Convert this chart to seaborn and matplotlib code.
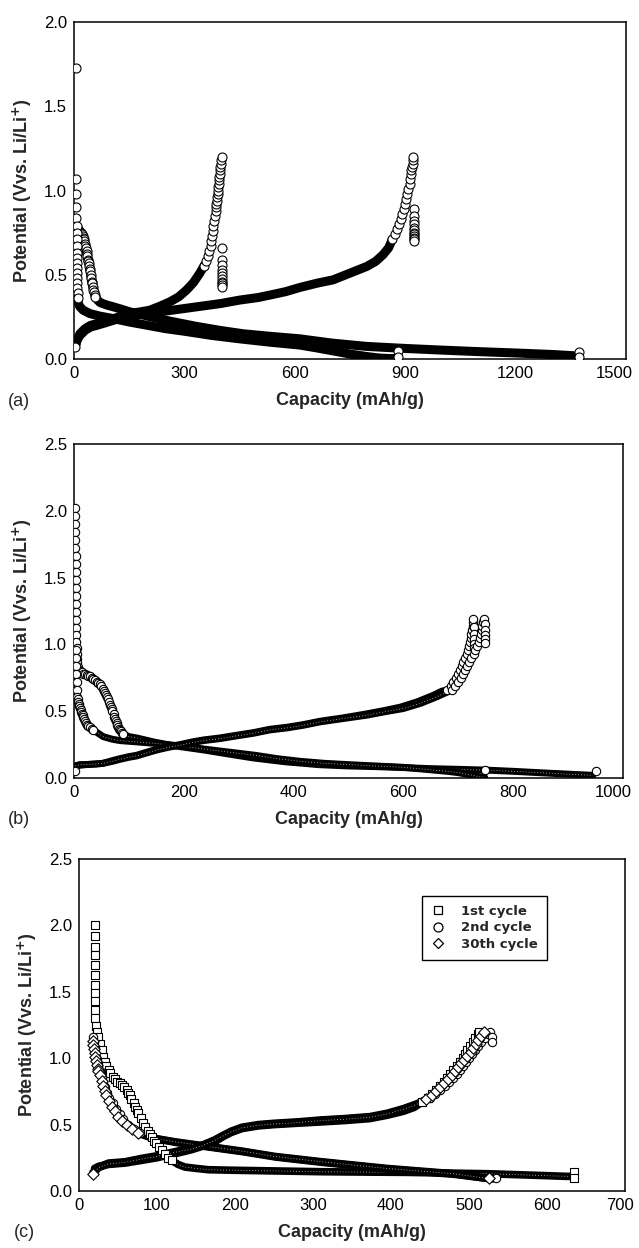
import seaborn as sns
import matplotlib.pyplot as plt
from matplotlib.lines import Line2D
from matplotlib.transforms import ScaledTranslation
from matplotlib.ticker import MultipleLocator, FormatStrFormatter

# ---------------- panel (a) ----------------
# 1st discharge (ends ~1380 mAh/g)
a_dis1_cap = [10, 18, 25, 30, 34, 38, 42, 48, 54, 58, 64, 71, 90, 107, 130, 152, 200, 261, 330, 397, 460, 533, 614, 700, 795, 900, 1000, 1100, 1200, 1300, 1356, 1372]
a_dis1_v = [0.77, 0.75, 0.72, 0.68, 0.64, 0.59, 0.55, 0.46, 0.40, 0.37, 0.35, 0.335, 0.32, 0.31, 0.295, 0.28, 0.255, 0.225, 0.195, 0.17, 0.15, 0.135, 0.12, 0.095, 0.075, 0.063, 0.053, 0.044, 0.036, 0.027, 0.02, 0.01]
a_dis1_pts_cap = [5, 10, 12, 14, 16, 18, 20, 22, 24, 25, 27, 28, 30, 31, 32, 34, 35, 36, 38, 39, 40, 42, 43, 44, 45, 47, 48, 50, 51, 53, 54, 56, 58, 1372, 1372]
a_dis1_pts_v = [1.73, 0.77, 0.765, 0.76, 0.755, 0.75, 0.745, 0.74, 0.73, 0.72, 0.71, 0.70, 0.68, 0.67, 0.66, 0.64, 0.625, 0.61, 0.59, 0.58, 0.57, 0.55, 0.535, 0.52, 0.50, 0.48, 0.46, 0.45, 0.43, 0.41, 0.40, 0.38, 0.37, 0.04, 0.01]
# 2nd discharge (ends ~880 mAh/g)
a_dis2_cap = [10, 12, 16, 25, 43, 70, 107, 150, 200, 250, 300, 375, 450, 533, 614, 660, 700, 750, 795, 830, 860, 878]
a_dis2_v = [0.37, 0.33, 0.31, 0.29, 0.27, 0.255, 0.24, 0.22, 0.20, 0.18, 0.165, 0.14, 0.12, 0.10, 0.083, 0.066, 0.05, 0.03, 0.015, 0.006, 0.003, 0.003]
a_dis2_pts_cap = [5, 5, 6, 6, 7, 7, 7, 7, 7, 8, 8, 8, 8, 9, 9, 9, 10, 11, 880, 880]
a_dis2_pts_v = [1.07, 0.98, 0.90, 0.84, 0.79, 0.75, 0.71, 0.67, 0.63, 0.60, 0.57, 0.54, 0.51, 0.48, 0.45, 0.42, 0.39, 0.36, 0.05, 0.01]
# charge ending ~400 mAh/g
a_chg1_cap = [3, 8, 16, 30, 45, 62, 85, 107, 130, 152, 180, 206, 235, 261, 285, 306, 325, 342, 355]
a_chg1_v = [0.07, 0.11, 0.15, 0.18, 0.20, 0.21, 0.225, 0.24, 0.255, 0.27, 0.28, 0.29, 0.315, 0.34, 0.37, 0.41, 0.455, 0.51, 0.56]
a_chg1_pts_cap = [3, 353, 360, 365, 368, 371, 373, 375, 377, 379, 381, 383, 385, 386, 387, 388, 389, 390, 391, 392, 393, 394, 395, 396, 397, 398, 399, 400, 401,
                  402, 402, 402, 402, 402, 402, 402, 402, 402, 402, 402]
a_chg1_pts_v = [0.07, 0.55, 0.58, 0.61, 0.64, 0.67, 0.70, 0.73, 0.76, 0.79, 0.82, 0.85, 0.88, 0.90, 0.92, 0.94, 0.96, 0.98, 1.00, 1.02, 1.04, 1.06, 1.08, 1.10, 1.12, 1.14, 1.16, 1.18, 1.20,
                0.66, 0.59, 0.56, 0.53, 0.51, 0.49, 0.475, 0.46, 0.45, 0.44, 0.43]
# charge ending ~920 mAh/g
a_chg2_cap = [3, 8, 16, 30, 45, 62, 85, 107, 130, 152, 200, 250, 300, 350, 400, 450, 500, 533, 575, 614, 660, 704, 750, 796, 820, 840, 855, 865]
a_chg2_v = [0.07, 0.11, 0.14, 0.17, 0.19, 0.20, 0.215, 0.23, 0.245, 0.255, 0.27, 0.285, 0.30, 0.315, 0.33, 0.35, 0.365, 0.38, 0.40, 0.425, 0.45, 0.47, 0.51, 0.55, 0.58, 0.62, 0.66, 0.71]
a_chg2_pts_cap = [865, 872, 878, 883, 888, 892, 896, 900, 903, 906, 909, 912, 914, 916, 917, 918, 920, 921, 922,
                  924, 924, 924, 924, 924, 924, 924, 924, 924, 924, 924, 924]
a_chg2_pts_v = [0.71, 0.74, 0.77, 0.80, 0.83, 0.86, 0.89, 0.92, 0.95, 0.98, 1.01, 1.04, 1.07, 1.10, 1.12, 1.14, 1.16, 1.18, 1.20,
                0.89, 0.85, 0.82, 0.80, 0.78, 0.765, 0.75, 0.74, 0.73, 0.72, 0.71, 0.70]

# ---------------- panel (b) ----------------
b_dis1_cap = [60, 69, 78, 90, 100, 114, 145, 170, 193, 236, 266, 296, 327, 357, 388, 418, 445, 500, 550, 600, 650, 700, 746, 800, 870, 945]
b_dis1_v = [0.61, 0.51, 0.41, 0.33, 0.31, 0.30, 0.27, 0.25, 0.235, 0.21, 0.19, 0.17, 0.15, 0.135, 0.12, 0.11, 0.10, 0.09, 0.085, 0.078, 0.07, 0.065, 0.06, 0.05, 0.035, 0.02]
b_dis1_pts_cap = [2, 2, 2, 2, 2, 2, 3, 3, 3, 3, 3, 3, 3, 4, 4, 4, 4, 4, 5, 5, 5, 6, 7, 9,
                  11, 14, 17, 20, 23, 26, 29, 32, 35, 38, 41, 44, 47, 50, 52, 54, 56, 58, 60, 62, 64, 66, 67, 69, 70, 72, 73, 75, 76, 78, 79, 81, 82, 84, 86, 88, 90, 950]
b_dis1_pts_v = [2.02, 1.96, 1.90, 1.84, 1.78, 1.72, 1.66, 1.60, 1.54, 1.48, 1.42, 1.36, 1.30, 1.24, 1.18, 1.12, 1.07, 1.02, 0.97, 0.93, 0.89, 0.86, 0.83, 0.81,
                0.80, 0.79, 0.78, 0.775, 0.77, 0.765, 0.76, 0.75, 0.74, 0.73, 0.72, 0.71, 0.70, 0.685, 0.67, 0.655, 0.64, 0.625, 0.61, 0.59, 0.57, 0.55, 0.53, 0.515, 0.50, 0.48, 0.46, 0.445, 0.43, 0.415, 0.40, 0.385, 0.37, 0.36, 0.35, 0.34, 0.33, 0.055]
b_dis2_cap = [35, 53, 70, 84, 115, 145, 193, 250, 290, 330, 370, 412, 456, 500, 550, 600, 640, 680, 700, 720, 735, 748]
b_dis2_v = [0.36, 0.31, 0.29, 0.28, 0.27, 0.26, 0.24, 0.21, 0.19, 0.17, 0.145, 0.125, 0.11, 0.10, 0.09, 0.08, 0.065, 0.05, 0.04, 0.025, 0.012, 0.005]
b_dis2_pts_cap = [3, 3, 4, 4, 5, 5, 6, 7, 8, 9, 10, 11, 12, 13, 14, 16, 17, 19, 20, 22, 24, 26, 29, 32, 35, 748]
b_dis2_pts_v = [0.96, 0.90, 0.84, 0.78, 0.72, 0.66, 0.61, 0.59, 0.57, 0.555, 0.54, 0.525, 0.51, 0.495, 0.48, 0.47, 0.46, 0.445, 0.43, 0.415, 0.40, 0.39, 0.38, 0.37, 0.36, 0.06]
b_chg1_cap = [2, 10, 20, 40, 53, 70, 84, 100, 114, 130, 151, 172, 193, 215, 236, 266, 296, 327, 357, 388, 418, 448, 490, 533, 565, 594, 625, 655, 670, 680]
b_chg1_v = [0.08, 0.095, 0.10, 0.105, 0.11, 0.13, 0.145, 0.16, 0.17, 0.19, 0.215, 0.235, 0.25, 0.27, 0.285, 0.30, 0.32, 0.34, 0.365, 0.38, 0.40, 0.425, 0.45, 0.48, 0.505, 0.53, 0.57, 0.62, 0.65, 0.66]
b_chg1_pts_cap = [2, 680, 686, 691, 695, 699, 703, 706, 709, 712, 715, 717, 719, 721, 723, 724, 725, 726, 727, 727, 729, 729, 729, 729, 729]
b_chg1_pts_v = [0.05, 0.66, 0.69, 0.72, 0.75, 0.78, 0.81, 0.84, 0.87, 0.90, 0.93, 0.96, 0.99, 1.02, 1.05, 1.08, 1.11, 1.14, 1.17, 1.19, 1.13, 1.08, 1.04, 1.00, 0.97]
b_chg2_cap = [2, 10, 20, 40, 53, 70, 84, 100, 114, 130, 151, 172, 193, 215, 236, 266, 296, 327, 357, 388, 418, 448, 490, 533, 565, 600, 632, 662, 678, 688]
b_chg2_v = [0.09, 0.10, 0.10, 0.105, 0.11, 0.125, 0.14, 0.155, 0.165, 0.185, 0.21, 0.23, 0.245, 0.265, 0.28, 0.295, 0.315, 0.335, 0.36, 0.375, 0.395, 0.42, 0.445, 0.47, 0.495, 0.52, 0.56, 0.61, 0.64, 0.66]
b_chg2_pts_cap = [688, 694, 699, 704, 708, 712, 716, 720, 724, 728, 731, 734, 737, 739, 741, 743, 744, 745, 746, 748, 748, 748, 748, 748]
b_chg2_pts_v = [0.66, 0.69, 0.72, 0.75, 0.78, 0.81, 0.84, 0.87, 0.90, 0.93, 0.96, 0.99, 1.02, 1.05, 1.08, 1.11, 1.14, 1.17, 1.19, 1.15, 1.11, 1.07, 1.04, 1.01]

# ---------------- panel (c) ----------------
# 1st cycle (squares)
c_sq_dis_cap = [93, 96, 100, 106, 112, 119, 127, 136, 150, 166, 190, 208, 260, 311, 370, 420, 470, 523, 575, 625, 632]
c_sq_dis_v = [0.41, 0.38, 0.35, 0.31, 0.27, 0.23, 0.20, 0.18, 0.17, 0.16, 0.157, 0.155, 0.15, 0.145, 0.142, 0.14, 0.135, 0.13, 0.12, 0.11, 0.11]
c_sq_dis_pts_cap = [20, 20, 20, 20, 20, 20, 20, 20, 20, 21, 21, 22, 23, 25, 27, 29, 31, 33, 35, 38, 40, 43, 46, 49, 52, 55, 58, 61, 63, 65, 67, 70, 72, 74, 76, 79, 82, 85, 88, 91, 93, 96, 99, 102, 106, 110, 114, 119,
                    634, 634]
c_sq_dis_pts_v = [2.00, 1.92, 1.84, 1.78, 1.70, 1.63, 1.55, 1.49, 1.43, 1.36, 1.30, 1.24, 1.20, 1.16, 1.11, 1.06, 1.01, 0.97, 0.94, 0.91, 0.89, 0.86, 0.84, 0.82, 0.81, 0.80, 0.78, 0.76, 0.74, 0.72, 0.69, 0.66, 0.63, 0.61, 0.585, 0.55, 0.51, 0.48, 0.45, 0.43, 0.41, 0.38, 0.36, 0.33, 0.31, 0.28, 0.25, 0.23,
                  0.145, 0.10]
c_sq_chg_cap = [20, 25, 38, 59, 80, 100, 115, 130, 144, 160, 174, 185, 195, 209, 230, 251, 280, 311, 340, 373, 395, 416, 430, 440]
c_sq_chg_v = [0.17, 0.185, 0.20, 0.21, 0.23, 0.25, 0.27, 0.29, 0.31, 0.34, 0.37, 0.41, 0.44, 0.47, 0.49, 0.50, 0.51, 0.52, 0.53, 0.545, 0.57, 0.60, 0.63, 0.67]
c_sq_chg_pts_cap = [440, 447, 453, 458, 463, 468, 472, 476, 480, 484, 488, 492, 495, 498, 501, 505, 508, 511, 513]
c_sq_chg_pts_v = [0.67, 0.70, 0.73, 0.76, 0.79, 0.82, 0.85, 0.88, 0.91, 0.94, 0.97, 1.00, 1.03, 1.06, 1.09, 1.12, 1.15, 1.18, 1.20]
# 2nd cycle (circles)
c_ci_dis_cap = [63, 70, 80, 97, 125, 168, 211, 253, 313, 396, 482, 530]
c_ci_dis_v = [0.50, 0.47, 0.43, 0.395, 0.365, 0.33, 0.295, 0.255, 0.215, 0.165, 0.125, 0.09]
c_ci_dis_pts_cap = [18, 19, 20, 21, 22, 23, 25, 27, 29, 31, 33, 36, 39, 43, 47, 52, 57, 63, 70, 78, 535]
c_ci_dis_pts_v = [1.16, 1.12, 1.08, 1.05, 1.01, 0.98, 0.94, 0.90, 0.86, 0.82, 0.78, 0.74, 0.70, 0.66, 0.62, 0.58, 0.54, 0.50, 0.47, 0.44, 0.10]
c_ci_chg_cap = [18, 25, 38, 59, 80, 100, 115, 130, 144, 160, 174, 185, 195, 209, 230, 251, 280, 311, 340, 373, 395, 416, 435, 450]
c_ci_chg_v = [0.14, 0.18, 0.21, 0.22, 0.245, 0.265, 0.285, 0.305, 0.32, 0.35, 0.385, 0.42, 0.45, 0.48, 0.50, 0.51, 0.52, 0.535, 0.545, 0.56, 0.585, 0.62, 0.66, 0.70]
c_ci_chg_pts_cap = [450, 457, 463, 469, 474, 479, 484, 488, 492, 496, 500, 504, 508, 512, 516, 520, 524, 527, 530, 530]
c_ci_chg_pts_v = [0.70, 0.73, 0.76, 0.79, 0.82, 0.85, 0.88, 0.91, 0.94, 0.97, 1.00, 1.03, 1.06, 1.09, 1.12, 1.15, 1.18, 1.20, 1.16, 1.12]
# 30th cycle (diamonds)
c_di_dis_cap = [76, 93, 123, 166, 209, 251, 311, 394, 480, 523]
c_di_dis_v = [0.435, 0.40, 0.37, 0.335, 0.30, 0.26, 0.22, 0.17, 0.13, 0.095]
c_di_dis_pts_cap = [18, 18, 19, 20, 21, 22, 23, 24, 25, 27, 29, 31, 33, 35, 38, 42, 46, 50, 55, 61, 68, 76, 526]
c_di_dis_pts_v = [1.13, 1.10, 1.07, 1.04, 1.01, 0.98, 0.95, 0.92, 0.90, 0.87, 0.83, 0.79, 0.75, 0.72, 0.68, 0.635, 0.60, 0.56, 0.53, 0.50, 0.47, 0.435, 0.10]
c_di_chg_cap = [18, 25, 38, 59, 80, 100, 115, 130, 144, 160, 174, 185, 195, 209, 230, 251, 280, 311, 340, 373, 395, 416, 432, 445]
c_di_chg_v = [0.13, 0.175, 0.205, 0.215, 0.24, 0.26, 0.28, 0.30, 0.315, 0.345, 0.38, 0.415, 0.445, 0.475, 0.495, 0.505, 0.515, 0.53, 0.54, 0.555, 0.58, 0.615, 0.65, 0.69]
c_di_chg_pts_cap = [18, 445, 452, 458, 463, 468, 473, 478, 482, 486, 490, 494, 498, 502, 505, 509, 512, 516, 519]
c_di_chg_pts_v = [0.13, 0.69, 0.72, 0.75, 0.78, 0.81, 0.84, 0.87, 0.90, 0.93, 0.96, 0.99, 1.02, 1.05, 1.08, 1.11, 1.14, 1.17, 1.20]

legend_labels = ['1st cycle', '2nd cycle', '30th cycle']

sns.set_style('white')
plt.rcParams['font.family'] = ['Liberation Sans', 'DejaVu Sans']


def curve(ax, bx, by, px, py, marker='o', lw=6.0, s=42, speckle=False):
    # the dense part of a curve shows as a solid band, single points as open markers
    sns.lineplot(x=bx, y=by, sort=False, estimator=None, color='black', linewidth=lw,
                 solid_capstyle='round', solid_joinstyle='round', ax=ax)
    if speckle:
        sns.lineplot(x=bx, y=by, sort=False, estimator=None, color='white', linewidth=0.6,
                     linestyle=(0, (1.0, 2.5)), alpha=0.8, ax=ax)
    sns.scatterplot(x=px, y=py, marker=marker, s=s, color='white', edgecolor='black',
                    linewidth=0.8, ax=ax, zorder=3)


def style(ax, xmax, xmaj, ymax, letter, last_shift):
    ax.set_xlim(0, xmax)
    ax.set_ylim(0, ymax)
    ax.xaxis.set_major_locator(MultipleLocator(xmaj))
    ax.xaxis.set_minor_locator(MultipleLocator(xmaj / 2))
    ax.yaxis.set_major_locator(MultipleLocator(0.5))
    ax.yaxis.set_minor_locator(MultipleLocator(0.25))
    ax.yaxis.set_major_formatter(FormatStrFormatter('%.1f'))
    ax.tick_params(which='both', direction='in', top=False, right=False, labelsize=12,
                   width=1.0, color='black', labelcolor='black')
    ax.tick_params(which='major', length=5, pad=5)
    ax.tick_params(which='minor', length=3)
    for sp in ax.spines.values():
        sp.set_linewidth(1.1)
        sp.set_color('black')
    ax.set_xlabel('Capacity (mAh/g)', fontsize=13, fontweight='bold', labelpad=8)
    ax.set_ylabel('Potential (Vvs. Li/Li$^{\\mathbf{+}}$)', fontsize=13, fontweight='bold', labelpad=7)
    ax.text(-0.12, -0.125, letter, transform=ax.transAxes, fontsize=13, va='center', ha='left')
    ax.last_shift = last_shift
    ax.last_label = str(xmax)


fig = plt.figure(figsize=(6.39, 12.48), dpi=100)

ax_a = fig.add_axes([0.1158, 0.7123, 0.8638, 0.2700])
curve(ax_a, a_dis1_cap, a_dis1_v, a_dis1_pts_cap, a_dis1_pts_v, lw=6.5)
curve(ax_a, a_dis2_cap, a_dis2_v, a_dis2_pts_cap, a_dis2_pts_v, lw=6.5)
curve(ax_a, a_chg1_cap, a_chg1_v, a_chg1_pts_cap, a_chg1_pts_v, lw=6.5)
curve(ax_a, a_chg2_cap, a_chg2_v, a_chg2_pts_cap, a_chg2_pts_v, lw=6.5)
style(ax_a, 1500, 300, 2.0, '(a)', -12)

ax_b = fig.add_axes([0.1158, 0.3766, 0.8592, 0.2676])
curve(ax_b, b_dis1_cap, b_dis1_v, b_dis1_pts_cap, b_dis1_pts_v, lw=5.0, s=36, speckle=True)
curve(ax_b, b_dis2_cap, b_dis2_v, b_dis2_pts_cap, b_dis2_pts_v, lw=5.0, s=36, speckle=True)
curve(ax_b, b_chg1_cap, b_chg1_v, b_chg1_pts_cap, b_chg1_pts_v, lw=5.0, s=36, speckle=True)
curve(ax_b, b_chg2_cap, b_chg2_v, b_chg2_pts_cap, b_chg2_pts_v, lw=5.0, s=36, speckle=True)
style(ax_b, 1000, 200, 2.5, '(b)', -10)

ax_c = fig.add_axes([0.1236, 0.0457, 0.8545, 0.2660])
curve(ax_c, c_sq_dis_cap, c_sq_dis_v, c_sq_dis_pts_cap, c_sq_dis_pts_v, marker='s', lw=5.5, s=30, speckle=True)
curve(ax_c, c_sq_chg_cap, c_sq_chg_v, c_sq_chg_pts_cap, c_sq_chg_pts_v, marker='s', lw=5.5, s=30, speckle=True)
curve(ax_c, c_ci_dis_cap, c_ci_dis_v, c_ci_dis_pts_cap, c_ci_dis_pts_v, marker='o', lw=5.5, s=36, speckle=True)
curve(ax_c, c_ci_chg_cap, c_ci_chg_v, c_ci_chg_pts_cap, c_ci_chg_pts_v, marker='o', lw=5.5, s=36, speckle=True)
curve(ax_c, c_di_dis_cap, c_di_dis_v, c_di_dis_pts_cap, c_di_dis_pts_v, marker='D', lw=5.5, s=34, speckle=True)
curve(ax_c, c_di_chg_cap, c_di_chg_v, c_di_chg_pts_cap, c_di_chg_pts_v, marker='D', lw=5.5, s=34, speckle=True)
style(ax_c, 700, 100, 2.5, '(c)', -5)

handles = [Line2D([], [], ls='', marker=m, ms=ms, mfc='white', mec='black', mew=0.9)
           for m, ms in zip(['s', 'o', 'D'], [6, 6.5, 5.5])]
leg = ax_c.legend(handles, legend_labels, loc='upper left', bbox_to_anchor=(0.628, 0.889),
                  frameon=True, fancybox=False, edgecolor='black', framealpha=1,
                  prop={'family': 'DejaVu Sans', 'weight': 'bold', 'size': 9.5},
                  handletextpad=1.3, borderpad=0.7, labelspacing=0.25, handlelength=1.0,
                  borderaxespad=0)
leg.get_frame().set_linewidth(1.0)

# the right-most x tick label sits a little inside the axis end
fig.canvas.draw()
for ax in (ax_a, ax_b, ax_c):
    for lab in ax.get_xticklabels():
        if lab.get_text() == ax.last_label:
            lab.set_transform(lab.get_transform() + ScaledTranslation(ax.last_shift / 100, 0, fig.dpi_scale_trans))

fig.savefig('out.png', dpi=100)
